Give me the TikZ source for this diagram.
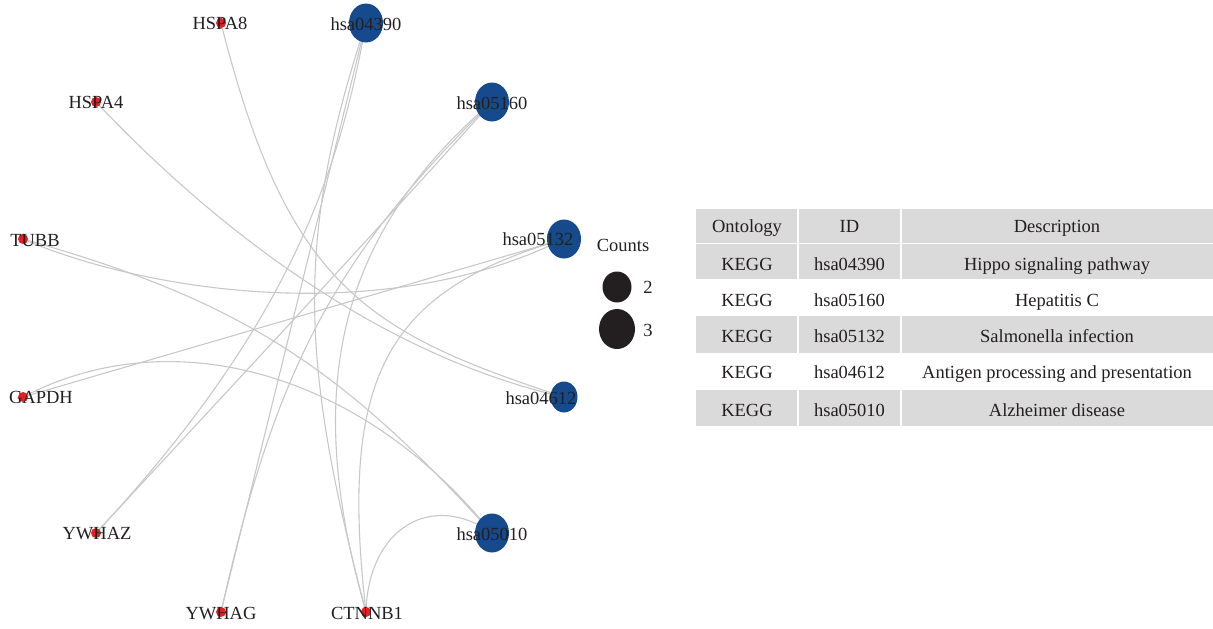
\documentclass[tikz,border=0pt]{standalone}
\usepackage{fontspec}
\setmainfont{Liberation Serif}
\usetikzlibrary{shapes.geometric,backgrounds}
\definecolor{edgec}{RGB}{200,200,200}
\definecolor{genec}{RGB}{232,30,38}
\definecolor{pathc}{RGB}{21,74,140}
\definecolor{txt}{RGB}{35,31,32}
\definecolor{cellc}{RGB}{218,218,218}
\begin{document}
\begin{tikzpicture}[x=1pt,y=-1pt,
  gene/.style={circle,fill=genec,minimum size=10pt,inner sep=0pt},
  pw/.style={ellipse,fill=pathc,minimum width=34pt,minimum height=39pt,inner sep=0pt},
  pwsmall/.style={pw,minimum width=27pt,minimum height=31pt},
  lbl/.style={anchor=base,text=txt,font=\fontsize{18.5}{20}\selectfont,inner sep=0pt},
  edge/.style={draw=edgec,line width=1.1pt},
  cnt/.style={ellipse,fill=txt,inner sep=0pt},
  cell/.style={fill=cellc,draw=none}]
\useasboundingbox (0,0) rectangle (1213,629);
% gene nodes
\node[gene] (HSPA8) at (221,23) {};
\node[gene] (HSPA4) at (96,102) {};
\node[gene] (TUBB) at (23,239) {};
\node[gene] (GAPDH) at (23,397) {};
\node[gene] (YWHAZ) at (96,533) {};
\node[gene] (YWHAG) at (221,612) {};
\node[gene] (CTNNB1) at (366,612) {};
% pathway nodes
\node[pw] (P04390) at (366,23) {};
\node[pw] (P05160) at (492,102) {};
\node[pw] (P05132) at (564,239) {};
\node[pwsmall] (P04612) at (564,397) {};
\node[pw] (P05010) at (492,533) {};
% labels
\node[lbl] (lHSPA8) at (220,29) {HSPA8};
\node[lbl] (lHSPA4) at (96,108) {HSPA4};
\node[lbl] (lTUBB) at (35,246) {TUBB};
\node[lbl] (lGAPDH) at (41,403) {GAPDH};
\node[lbl] (lYWHAZ) at (97,539) {YWHAZ};
\node[lbl] (lYWHAG) at (221,619) {YWHAG};
\node[lbl] (lCTNNB1) at (367,619) {CTNNB1};
\node[lbl] (l04390) at (366,30) {hsa04390};
\node[lbl] (l05160) at (492,109) {hsa05160};
\node[lbl] (l05132) at (538,245) {hsa05132};
\node[lbl] (l04612) at (541,404) {hsa04612};
\node[lbl] (l05010) at (492,540) {hsa05010};
% edges
\begin{scope}[on background layer]
\draw[edge] (HSPA8.center) .. controls (287,285) and (365,332) .. (P04612.center);
\draw[edge] (HSPA4.center) .. controls (255,270) and (420,365) .. (P04612.center);
\draw[edge] (TUBB.center) .. controls (140,290) and (380,330) .. (P05132.center);
\draw[edge] (TUBB.center) .. controls (243,301) and (342,368) .. (P05010.center);
\draw[edge] (GAPDH.center) -- (P05132.center);
\draw[edge] (GAPDH.center) .. controls (170,320) and (360,370) .. (P05010.center);
\draw[edge] (YWHAZ.center) .. controls (290,325) and (340,170) .. (P04390.center);
\draw[edge] (YWHAZ.center) .. controls (232,386) and (372,236) .. (P05160.center);
\draw[edge] (YWHAG.center) -- (P04390.center);
\draw[edge] (YWHAG.center) .. controls (275,370) and (335,255) .. (P05160.center);
\draw[edge] (CTNNB1.center) .. controls (300,360) and (295,240) .. (P04390.center);
\draw[edge] (CTNNB1.center) .. controls (305,400) and (330,240) .. (P05160.center);
\draw[edge] (CTNNB1.center) .. controls (338,370) and (390,290) .. (P05132.center);
\draw[edge] (CTNNB1.center) .. controls (368,530) and (430,490) .. (P05010.center);
\end{scope}
% legend
\node[lbl] (counts) at (623,251) {Counts};
\node[cnt,minimum width=29pt,minimum height=31pt] (c2) at (617,287) {};
\node[cnt,minimum width=36pt,minimum height=40pt] (c3) at (617,329) {};
\node[lbl] (n2) at (648,293) {2};
\node[lbl] (n3) at (648,336) {3};
% table
\fill[cell] (696,209) rectangle (797,242.5);
\fill[cell] (799,209) rectangle (900,242.5);
\fill[cell] (902,209) rectangle (1213,242.5);
\fill[cell] (696,244) rectangle (797,279);
\fill[cell] (799,244) rectangle (900,279);
\fill[cell] (902,244) rectangle (1213,279);
\fill[cell] (696,316) rectangle (797,353);
\fill[cell] (799,316) rectangle (900,353);
\fill[cell] (902,316) rectangle (1213,353);
\fill[cell] (696,390) rectangle (797,426);
\fill[cell] (799,390) rectangle (900,426);
\fill[cell] (902,390) rectangle (1213,426);
\node[lbl] (h1) at (747,232) {Ontology};
\node[lbl] (h2) at (849.5,232) {ID};
\node[lbl] (h3) at (1057,232) {Description};
\node[lbl] (r1a) at (747,270) {KEGG};
\node[lbl] (r1b) at (849.5,270) {hsa04390};
\node[lbl] (r1c) at (1057,270) {Hippo signaling pathway};
\node[lbl] (r2a) at (747,306) {KEGG};
\node[lbl] (r2b) at (849.5,306) {hsa05160};
\node[lbl] (r2c) at (1057,306) {Hepatitis C};
\node[lbl] (r3a) at (747,342) {KEGG};
\node[lbl] (r3b) at (849.5,342) {hsa05132};
\node[lbl] (r3c) at (1057,342) {Salmonella infection};
\node[lbl] (r4a) at (747,378) {KEGG};
\node[lbl] (r4b) at (849.5,378) {hsa04612};
\node[lbl] (r4c) at (1057,378) {Antigen processing and presentation};
\node[lbl] (r5a) at (747,416) {KEGG};
\node[lbl] (r5b) at (849.5,416) {hsa05010};
\node[lbl] (r5c) at (1057,416) {Alzheimer disease};
\end{tikzpicture}
\end{document}
